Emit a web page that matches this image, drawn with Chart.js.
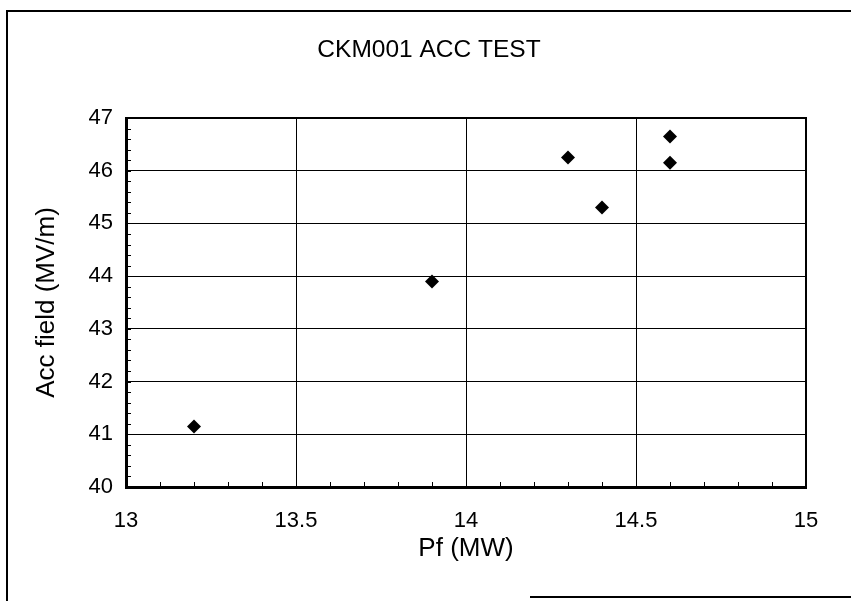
<!DOCTYPE html>
<html>
<head>
<meta charset="utf-8">
<script src="https://cdn.jsdelivr.net/npm/chart.js@4"></script>
<style>
  html, body { margin: 0; padding: 0; background: #fff; }
  #wrap { position: relative; width: 851px; height: 601px; }
</style>
</head>
<body>
<div id="wrap"><canvas id="accChart" width="851" height="601"></canvas></div>
<script>
// --- datos --- //
const pfValues = [13.2, 13.9, 14.3, 14.4, 14.6, 14.6];          // Pf (MW)
const accValues = [41.15, 43.9, 46.25, 45.3, 46.65, 46.15];     // Acc field (MV/m)
const xTicks = [13, 13.5, 14, 14.5, 15];
const yTicks = [40, 41, 42, 43, 44, 45, 46, 47];

const ink = '#000000';
const fontFamily = '"Liberation Sans", Arial, sans-serif';

Chart.defaults.font.family = fontFamily;
Chart.defaults.color = ink;

// marco exterior de la imagen + ticks menores hacia dentro + borde superior/derecho
const frameAndMinorTicks = {
    id: 'frameAndMinorTicks',
    afterDraw(chart) {
        const { ctx, chartArea: { left, right, top, bottom }, scales: { x, y } } = chart;
        ctx.save();
        ctx.strokeStyle = ink;

        // borde superior y derecho del área de trazado
        ctx.lineWidth = 2;
        ctx.beginPath();
        ctx.moveTo(left, top);
        ctx.lineTo(right, top);
        ctx.lineTo(right, bottom);
        ctx.stroke();

        // ticks menores
        ctx.lineWidth = 1;
        ctx.beginPath();
        for (let v = 13.1; v < 15; v += 0.1) {
            const px = Math.round(x.getPixelForValue(v)) + 0.5;
            ctx.moveTo(px, bottom);
            ctx.lineTo(px, bottom - 5);
        }
        for (let v = 40.2; v < 47; v += 0.2) {
            const py = Math.round(y.getPixelForValue(v)) + 0.5;
            ctx.moveTo(left, py);
            ctx.lineTo(left + 5, py);
        }
        ctx.stroke();

        // marco de la hoja escaneada
        ctx.lineWidth = 2;
        ctx.beginPath();
        ctx.moveTo(7, 601);
        ctx.lineTo(7, 11);
        ctx.lineTo(851, 11);
        ctx.moveTo(530, 597);
        ctx.lineTo(851, 597);
        ctx.stroke();
        ctx.restore();
    }
};

new Chart(document.getElementById('accChart'), {
    type: 'scatter',
    data: {
        datasets: [{
            label: 'Acc',
            data: pfValues.map((p, i) => ({ x: p, y: accValues[i] })),
            pointStyle: 'rectRot',
            pointRadius: 7,
            pointHoverRadius: 7,
            backgroundColor: ink,
            borderColor: ink,
            borderWidth: 0
        }]
    },
    plugins: [frameAndMinorTicks],
    options: {
        responsive: false,
        animation: false,
        // el padding izquierdo centra el título sobre el área de trazado
        layout: { padding: { left: 52, right: 45, top: 0, bottom: 0 } },
        plugins: {
            legend: { display: false },
            tooltip: { enabled: false },
            title: {
                display: true,
                text: 'CKM001 ACC TEST',
                color: ink,
                font: { size: 24.5, weight: 'normal' },
                padding: { top: 35.3, bottom: 53.3 }
            }
        },
        scales: {
            x: {
                type: 'linear',
                min: 13,
                max: 15,
                afterBuildTicks: (s) => { s.ticks = xTicks.map(v => ({ value: v })); },
                afterFit: (s) => { s.height = 114; },
                ticks: {
                    color: ink,
                    font: { size: 22 },
                    padding: 21,
                    maxRotation: 0,
                    autoSkip: false,
                    callback: (v) => String(v)
                },
                grid: { color: ink, lineWidth: 1, drawTicks: false },
                border: { color: ink, width: 3 },
                title: {
                    display: true,
                    text: 'Pf (MW)',
                    color: ink,
                    font: { size: 26 },
                    padding: { top: 0, bottom: 36.4 }
                }
            },
            y: {
                type: 'linear',
                min: 40,
                max: 47,
                afterBuildTicks: (s) => { s.ticks = yTicks.map(v => ({ value: v })); },
                afterFit: (s) => { s.width = 74; },
                ticks: {
                    color: ink,
                    font: { size: 22 },
                    padding: 13,
                    autoSkip: false,
                    callback: (v) => String(v)
                },
                grid: { color: ink, lineWidth: 1, drawTicks: false },
                border: { color: ink, width: 3 },
                title: {
                    display: true,
                    text: 'Acc field (MV/m)',
                    color: ink,
                    font: { size: 26 },
                    padding: { top: -20.6, bottom: 0 }
                }
            }
        }
    }
});
</script>
</body>
</html>
